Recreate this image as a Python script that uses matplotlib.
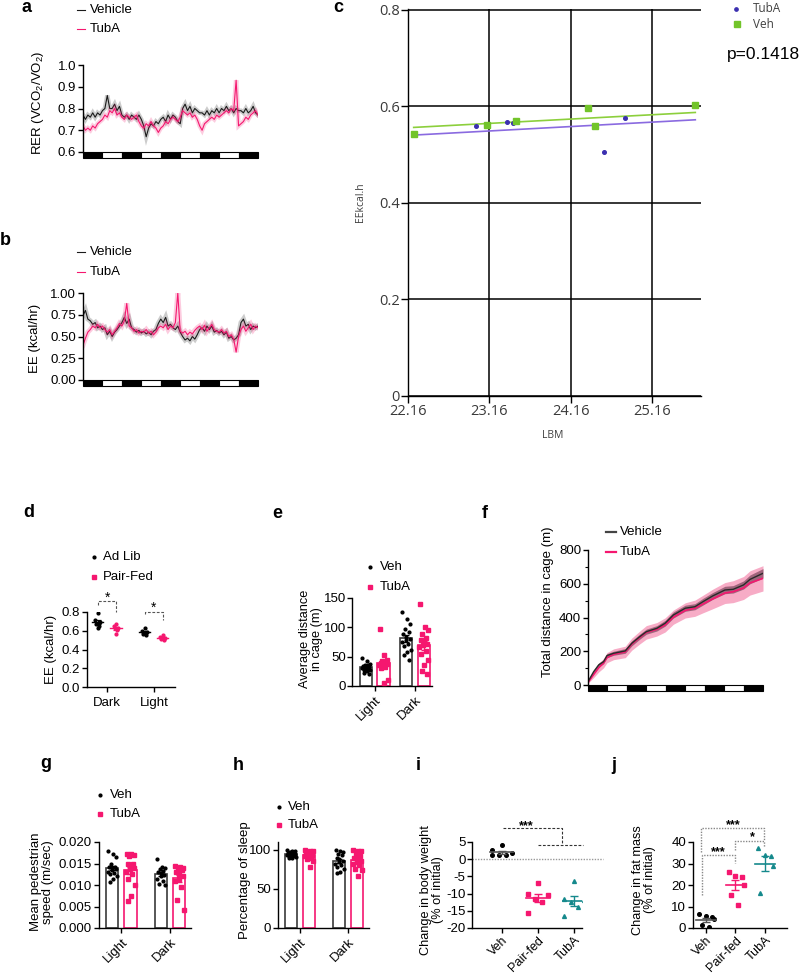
import numpy as np
import matplotlib
matplotlib.use('Agg')
import matplotlib.pyplot as plt
from matplotlib.patches import Rectangle
from matplotlib.lines import Line2D
import matplotlib.transforms as mtransforms

plt.rcParams.update({
    'font.family': ['Liberation Sans', 'DejaVu Sans'],
    'font.size': 9,
    'axes.linewidth': 1.0,
    'xtick.major.width': 1.0, 'ytick.major.width': 1.0,
    'xtick.major.size': 3.5, 'ytick.major.size': 3.5,
    'xtick.major.pad': 2, 'ytick.major.pad': 1.5,
    'mathtext.fontset': 'custom',
    'mathtext.rm': 'Liberation Sans',
})

PINK = '#f5176f'
TEAL = '#15898c'
VEHC = '#1a1a1a'
VEH_EDGE = '#3a3a3a'

# ---------------- data ----------------
ld_phases = ['dark', 'light', 'dark', 'light', 'dark', 'light', 'dark', 'light', 'dark']
seg_hours = 12
t_ab = np.arange(73) * 1.5   # sampling times (h)

rer_veh = [0.77, 0.75, 0.77, 0.76, 0.78, 0.76, 0.78, 0.77, 0.79,
           0.80, 0.86, 0.80, 0.80, 0.82, 0.79, 0.81, 0.77,
           0.76, 0.77, 0.75, 0.77, 0.76, 0.75, 0.77, 0.75,
           0.72, 0.67, 0.71, 0.73, 0.72, 0.74, 0.73, 0.75,
           0.76, 0.74, 0.77, 0.75, 0.77, 0.76, 0.74, 0.73,
           0.80, 0.82, 0.79, 0.81, 0.78, 0.80, 0.79, 0.78,
           0.78, 0.77, 0.79, 0.77, 0.79, 0.78, 0.80, 0.78,
           0.80, 0.79, 0.81, 0.79, 0.80, 0.78, 0.80, 0.79,
           0.79, 0.78, 0.80, 0.78, 0.79, 0.81, 0.78, 0.77]
rer_tuba = [0.72, 0.70, 0.71, 0.70, 0.72, 0.71, 0.73, 0.74, 0.75,
            0.77, 0.76, 0.79, 0.78, 0.80, 0.77, 0.78, 0.76,
            0.75, 0.77, 0.76, 0.75, 0.76, 0.77, 0.74, 0.72,
            0.71, 0.73, 0.72, 0.74, 0.72, 0.71, 0.69, 0.71,
            0.72, 0.74, 0.73, 0.75, 0.76, 0.75, 0.74, 0.76,
            0.79, 0.78, 0.77, 0.78, 0.76, 0.77, 0.75, 0.72,
            0.70, 0.73, 0.74, 0.75, 0.76, 0.75, 0.77, 0.76,
            0.77, 0.78, 0.79, 0.78, 0.80, 0.79, 0.93, 0.72,
            0.73, 0.74, 0.76, 0.75, 0.77, 0.78, 0.79, 0.77]
rer_ticks = [0.6, 0.7, 0.8, 0.9, 1.0]

ee_veh = [0.74, 0.80, 0.70, 0.68, 0.64, 0.66, 0.60, 0.62, 0.58,
          0.60, 0.52, 0.56, 0.50, 0.55, 0.58, 0.62, 0.66,
          0.72, 0.65, 0.70, 0.60, 0.58, 0.55, 0.57, 0.54,
          0.56, 0.53, 0.55, 0.52, 0.56, 0.58, 0.65, 0.70,
          0.66, 0.72, 0.62, 0.64, 0.60, 0.58, 0.62, 0.55,
          0.50, 0.46, 0.48, 0.45, 0.50, 0.47, 0.52, 0.58,
          0.60, 0.56, 0.62, 0.58, 0.62, 0.55, 0.57, 0.54,
          0.56, 0.52, 0.55, 0.48, 0.50, 0.46, 0.48, 0.52,
          0.66, 0.70, 0.62, 0.64, 0.58, 0.62, 0.60, 0.62]
ee_tuba = [0.40, 0.48, 0.55, 0.58, 0.62, 0.60, 0.64, 0.60, 0.62,
           0.58, 0.55, 0.58, 0.52, 0.56, 0.60, 0.65, 0.62,
           0.68, 0.88, 0.62, 0.60, 0.56, 0.58, 0.54, 0.56,
           0.55, 0.58, 0.54, 0.56, 0.52, 0.55, 0.60, 0.62,
           0.60, 0.64, 0.58, 0.62, 0.60, 0.66, 1.00, 0.56,
           0.54, 0.56, 0.52, 0.55, 0.53, 0.57, 0.60, 0.62,
           0.58, 0.63, 0.56, 0.60, 0.64, 0.58, 0.56, 0.55,
           0.58, 0.54, 0.56, 0.50, 0.52, 0.47, 0.32, 0.50,
           0.58, 0.62, 0.56, 0.60, 0.64, 0.58, 0.62, 0.60]
ee_ticks = [0.0, 0.25, 0.5, 0.75, 1.0]

# panel c
lbm_veh = [22.23, 23.13, 23.49, 24.37, 24.46, 25.69]
eec_veh = [0.543, 0.562, 0.569, 0.596, 0.560, 0.603]
lbm_tuba = [22.99, 23.38, 23.45, 24.57, 24.83]
eec_tuba = [0.560, 0.568, 0.566, 0.506, 0.577]
fit_x = [22.23, 25.69]
fit_veh = [0.5566, 0.5876]
fit_tuba = [0.5407, 0.5724]
c_xticks = [22.16, 23.16, 24.16, 25.16]
c_yticks = [0, 0.2, 0.4, 0.6, 0.8]
c_ylabels = ['0', '0.2', '0.4', '0.6', '0.8']

# panel d
d_phases = ['Dark', 'Light']
ee_adlib_dark = [0.79, 0.71, 0.69, 0.67, 0.65, 0.63]
ee_pair_dark = [0.67, 0.65, 0.63, 0.63, 0.61, 0.57]
ee_adlib_light = [0.63, 0.60, 0.59, 0.57, 0.56]
ee_pair_light = [0.55, 0.53, 0.52, 0.51, 0.50, 0.52]

# panel e
e_phases = ['Light', 'Dark']
dist_veh_light = [48, 42, 38, 36, 35, 34, 33, 32, 31, 30, 29, 28, 27, 25, 22, 20]
dist_tuba_light = [97, 53, 45, 42, 40, 39, 38, 37, 36, 35, 33, 30, 10, 5]
dist_veh_dark = [126, 115, 105, 98, 92, 88, 84, 80, 78, 75, 72, 68, 62, 58, 52, 45]
dist_tuba_dark = [140, 100, 95, 88, 82, 78, 75, 72, 70, 66, 60, 55, 45, 35, 25, 20]

# panel f
t_f = [0, 3.5, 6.6, 9.6, 11.7, 15.8, 23, 27, 32, 36, 42.5, 47.6, 52.7, 60, 66, 71, 77, 84.5, 89.6, 96, 100, 108]
cum_veh = [20, 79, 119, 138, 174, 188, 202, 247, 287, 316, 336, 366, 415, 455, 464, 494, 528, 563, 567, 593, 626, 662]
cum_tuba = [15, 62, 102, 130, 162, 182, 196, 242, 282, 312, 330, 356, 402, 442, 455, 480, 510, 545, 553, 575, 605, 632]
sem_veh = [4, 10, 12, 12, 12, 12, 14, 15, 15, 15, 16, 17, 18, 18, 18, 20, 20, 22, 22, 24, 26, 28]
sem_tuba = [5, 18, 25, 28, 30, 32, 34, 36, 38, 40, 40, 42, 42, 45, 48, 52, 58, 62, 65, 68, 72, 75]
f_yticks = [0, 200, 400, 600, 800]

# panel g
spd_veh_light = [0.0180, 0.0172, 0.0165, 0.0150, 0.0142, 0.0143, 0.0140, 0.0137, 0.0134, 0.0131, 0.0128, 0.0125, 0.0120, 0.0115, 0.0108]
spd_tuba_light = [0.0173, 0.0171, 0.0170, 0.0168, 0.0150, 0.0148, 0.0143, 0.0140, 0.0137, 0.0130, 0.0125, 0.0115, 0.0100, 0.0075, 0.0063]
spd_veh_dark = [0.0160, 0.0142, 0.0140, 0.0137, 0.0133, 0.0130, 0.0127, 0.0124, 0.0120, 0.0115, 0.0110, 0.0103, 0.0099]
spd_tuba_dark = [0.0145, 0.0143, 0.0140, 0.0138, 0.0135, 0.0130, 0.0125, 0.0120, 0.0115, 0.0110, 0.0095, 0.0065, 0.0043]
g_yticks = [0.0, 0.005, 0.010, 0.015, 0.020]

# panel h
slp_veh_light = [100, 99, 98, 97, 96, 96, 95, 95, 94, 93, 92, 92, 91, 90, 89]
slp_tuba_light = [100, 99, 98, 97, 96, 95, 95, 94, 93, 92, 90, 88, 86, 78]
slp_veh_dark = [100, 99, 97, 95, 93, 90, 88, 86, 84, 82, 80, 78, 75, 72, 70]
slp_tuba_dark = [100, 99, 98, 95, 92, 90, 88, 86, 84, 82, 80, 75, 74, 66]
h_yticks = [0, 50, 100]

# panels i, j
grp3 = ['Veh', 'Pair-fed', 'TubA']
bw_veh = [4.0, 2.6, 1.9, 1.3, 1.2, 1.2]
bw_pair = [-6.9, -10.1, -10.5, -11.5, -12.5, -15.5]
bw_tuba = [-6.3, -11.5, -12.0, -12.5, -14.0, -16.5]
i_yticks = [5, 0, -5, -10, -15, -20]
fm_veh = [6.5, 5.5, 5.0, 4.0, 1.5, 0.5]
fm_pair = [26.0, 24.0, 23.5, 20.0, 15.5, 10.5]
fm_tuba = [37.0, 34.0, 33.5, 29.0, 16.5]
j_yticks = [0, 10, 20, 30, 40]

# ---------------- figure ----------------
W, H = 800, 974
fig = plt.figure(figsize=(W / 100, H / 100), dpi=100)


def ax_px(l, t, r, b):
    return fig.add_axes([l / W, 1 - b / H, (r - l) / W, (b - t) / H])


def fx(x):
    return x / W


def fy(y):
    return 1 - y / H


def letter(x, y, s):
    fig.text(fx(x), fy(y), s, fontsize=13, fontweight='bold', ha='left', va='baseline')


def ylab(x, y, s, **kw):
    kw.setdefault('fontsize', 9.5)
    fig.text(fx(x), fy(y), s, rotation=90, ha='center', va='center', multialignment='center',
             linespacing=1.05, **kw)


def leg_line(x0, x1, y, tx, label, color, lw=1.0):
    fig.add_artist(Line2D([fx(x0), fx(x1)], [fy(y), fy(y)], color=color, lw=lw,
                          transform=fig.transFigure))
    fig.text(fx(tx), fy(y), label, fontsize=9.5, va='center', ha='left')


def leg_mark(x, y, tx, label, color, marker='o', ms=2.2, fs=9.5, tc='black', family=None):
    fig.add_artist(Line2D([fx(x)], [fy(y)], marker=marker, color=color, ms=ms, ls='none',
                          transform=fig.transFigure))
    kw = {}
    if family:
        kw['family'] = family
    fig.text(fx(tx), fy(y), label, fontsize=fs, va='center', ha='left', color=tc, **kw)


def gp(ax):
    ax.spines['top'].set_visible(False)
    ax.spines['right'].set_visible(False)


def ld_bar(ax, h_frac):
    trans = mtransforms.blended_transform_factory(ax.transData, ax.transAxes)
    for i, ph in enumerate(ld_phases):
        fc = 'black' if ph == 'dark' else 'white'
        ax.add_patch(Rectangle((i * seg_hours, -h_frac), seg_hours, h_frac, transform=trans,
                               facecolor=fc, edgecolor='black', lw=0.8, clip_on=False))


# ---- panel a ----
letter(21, 12, 'a')
axA = ax_px(83, 65, 258, 152)
for y, c in [(rer_veh, VEHC), (rer_tuba, PINK)]:
    axA.plot(t_ab, y, color=c, lw=3.2, alpha=0.22, solid_joinstyle='miter')
    axA.plot(t_ab, y, color=c, lw=0.8)
axA.set_xlim(0, 108)
axA.set_ylim(0.6, 1.0)
axA.set_yticks(rer_ticks)
axA.set_yticklabels(['%.1f' % v for v in rer_ticks], fontsize=9.5)
for s in ['top', 'right', 'bottom']:
    axA.spines[s].set_visible(False)
axA.set_xticks([])
ld_bar(axA, 6 / 87)
ylab(38, 103, 'RER (VCO$_2$/VO$_2$)')
leg_line(77, 85, 10, 90, 'Vehicle', VEHC, lw=0.8)
leg_line(77, 85, 29, 90, 'TubA', PINK, lw=0.8)

# ---- panel b ----
letter(0, 245, 'b')
axB = ax_px(83, 293, 258, 380)
for y, c in [(ee_veh, VEHC), (ee_tuba, PINK)]:
    axB.plot(t_ab, y, color=c, lw=3.6, alpha=0.22, solid_joinstyle='miter')
    axB.plot(t_ab, y, color=c, lw=0.8)
axB.set_xlim(0, 108)
axB.set_ylim(0, 1.0)
axB.set_yticks(ee_ticks)
axB.set_yticklabels(['%.2f' % v for v in ee_ticks], fontsize=9.5)
for s in ['top', 'right', 'bottom']:
    axB.spines[s].set_visible(False)
axB.set_xticks([])
ld_bar(axB, 6 / 87)
ylab(35, 338, 'EE (kcal/hr)')
leg_line(77, 85, 252, 90, 'Vehicle', VEHC, lw=0.8)
leg_line(77, 85, 272, 90, 'TubA', PINK, lw=0.8)

# ---- panel c ----
letter(333, 12, 'c')
axC = ax_px(408, 9, 701, 396)
axC.set_xlim(22.16, 25.76)
axC.set_ylim(0, 0.802)
axC.set_xticks(c_xticks)
axC.set_xticklabels(['%.2f' % v for v in c_xticks], fontsize=10.5, color='#3a3a3a', family='Open Sans')
axC.set_yticks(c_yticks)
axC.set_yticklabels(c_ylabels, fontsize=10.5, color='#3a3a3a', family='Open Sans')
axC.tick_params(length=5, width=1, pad=1)
axC.grid(True, color='black', lw=1.1)
axC.set_axisbelow(True)
axC.spines['top'].set_visible(False)
axC.spines['right'].set_visible(False)
axC.plot(fit_x, fit_veh, color='#8ccf3c', lw=1.2, zorder=3)
axC.plot(fit_x, fit_tuba, color='#8a6ae0', lw=1.2, zorder=3)
axC.plot(lbm_tuba, eec_tuba, 'o', color='#3b2fb0', ms=2.6, zorder=4)
axC.plot(lbm_veh, eec_veh, 's', color='#72c42a', ms=4.2, zorder=4)
fig.text(fx(553), fy(436), 'LBM', fontsize=7.5, color='#404040', ha='center', va='center', family='Open Sans')
ylab(361, 202, 'EEkcal.h', fontsize=7.5, color='#404040', family='Open Sans')
leg_mark(736, 9, 753, 'TubA', '#3b2fb0', 'o', 2.4, fs=8.5, tc='#404040', family='Open Sans')
leg_mark(737, 24, 753, 'Veh', '#72c42a', 's', 4.0, fs=8.5, tc='#404040', family='Open Sans')
fig.text(fx(727), fy(55), 'p=0.1418', fontsize=12.5, ha='left', va='center')

# ---- panel d ----
letter(23, 517, 'd')
axD = ax_px(87, 612, 175, 687)
gp(axD)
jit_d = [0.0, -0.05, 0.05, -0.03, 0.03, 0.0]
for gi, (a_, p_) in enumerate([(ee_adlib_dark, ee_pair_dark), (ee_adlib_light, ee_pair_light)]):
    for vals, col, dx in [(a_, 'black', -0.2), (p_, PINK, 0.19)]:
        v = np.asarray(vals)
        m = v.mean()
        se = v.std(ddof=1) / np.sqrt(len(v))
        x = gi + dx
        axD.plot(x + np.resize(jit_d, len(v)), v, 'o', color=col, ms=2.0, zorder=3)
        axD.plot([x - 0.12, x + 0.12], [m, m], color=col, lw=1.0, zorder=4)
        axD.errorbar(x, m, yerr=se, color=col, lw=0.9, capsize=2, capthick=0.9, zorder=4)
axD.set_xlim(-0.43, 1.45)
axD.set_ylim(0, 0.8)
axD.set_yticks([0, 0.2, 0.4, 0.6, 0.8])
axD.set_yticklabels(['0.0', '0.2', '0.4', '0.6', '0.8'], fontsize=9.5)
axD.set_xticks([0, 1])
axD.set_xticklabels(d_phases, fontsize=9.5)
axD.tick_params(axis='x', pad=4)
bk = dict(color='#555555', lw=0.8, ls=(0, (2.5, 1.5)), clip_on=False)
axD.plot([-0.2, -0.2, 0.19, 0.19], [0.871, 0.914, 0.914, 0.80], **bk)
axD.plot([0.81, 0.81, 1.19, 1.19], [0.775, 0.80, 0.80, 0.711], **bk)
axD.text(0.0, 0.955, '*', ha='center', va='center', fontsize=10)
axD.text(1.0, 0.84, '*', ha='center', va='center', fontsize=10)
ylab(51, 649, 'EE (kcal/hr)')
leg_mark(94, 557, 103, 'Ad Lib', 'black', 'o', 2.0)
leg_mark(94, 577, 103, 'Pair-Fed', PINK, 's', 2.2)


# ---- bar panels helper ----
def bar_panel(ax, veh_groups, tuba_groups, width, off, jit):
    for gi in range(2):
        for vals, ec, pc, dx, mk, ms in [(veh_groups[gi], VEH_EDGE, 'black', -off, 'o', 2.0),
                                         (tuba_groups[gi], PINK, PINK, off, 's', 2.2)]:
            v = np.asarray(vals, dtype=float)
            m = v.mean()
            se = v.std(ddof=1) / np.sqrt(len(v))
            x = gi + dx
            ax.bar(x, m, width=width, facecolor='white', edgecolor=ec, lw=1.2, zorder=1)
            ax.plot(x + np.resize(jit, len(v)), v, ls='none', marker=mk, ms=ms, color=pc, zorder=3)
            ax.errorbar(x, m, yerr=se, color=pc, lw=1.0, capsize=2.5, capthick=1.0, zorder=4)
    ax.set_xticks([0, 1])
    ax.set_xticklabels(e_phases, rotation=45, ha='right', rotation_mode='anchor', fontsize=9.5)
    gp(ax)


jit_bar = [-0.08, 0.02, 0.08, -0.03, 0.05, -0.06, 0.0, 0.07, -0.01, -0.09, 0.04, -0.05, 0.09, 0.01, -0.04, 0.06]

# ---- panel e ----
letter(272, 518, 'e')
axE = ax_px(352, 598, 432, 686)
bar_panel(axE, [dist_veh_light, dist_veh_dark], [dist_tuba_light, dist_tuba_dark], 0.3, 0.217,
          [j * 1.2 for j in jit_bar])
axE.set_xlim(-0.565, 1.42)
axE.set_ylim(0, 150)
axE.set_yticks([0, 50, 100, 150])
axE.tick_params(axis='y', labelsize=9.5, pad=1)
ylab(311, 639, 'Average distance\nin cage (m)', fontsize=9.2)
leg_mark(370, 567, 380, 'Veh', 'black', 'o', 2.0)
leg_mark(370, 587, 380, 'TubA', PINK, 's', 2.2)

# ---- panel f ----
letter(482, 518, 'f')
axF = ax_px(588, 550, 763, 685)
cv, ct = np.asarray(cum_veh), np.asarray(cum_tuba)
sv, st = np.asarray(sem_veh), np.asarray(sem_tuba)
axF.fill_between(t_f, ct - st, ct + st, color='#f590b4', alpha=0.75, lw=0)
axF.fill_between(t_f, cv - sv, cv + sv, color='#5a2a40', alpha=0.55, lw=0)
axF.plot(t_f, ct, color=PINK, lw=1.2)
axF.plot(t_f, cv, color='#2a2a2a', lw=1.0)
axF.set_xlim(0, 108)
axF.set_ylim(0, 800)
axF.set_yticks(f_yticks)
axF.set_yticks([100, 300, 500, 700], minor=True)
axF.tick_params(axis='y', which='minor', length=2, width=0.8)
axF.tick_params(axis='y', labelsize=9.5)
for s in ['top', 'right', 'bottom']:
    axF.spines[s].set_visible(False)
axF.set_xticks([])
ld_bar(axF, 6 / 135)
ylab(548, 602, 'Total distance in cage (m)')
leg_line(606, 616, 532, 620, 'Vehicle', '#444444', lw=1.6)
leg_line(606, 616, 552, 620, 'TubA', PINK, lw=1.6)

# ---- panel g ----
letter(40, 768, 'g')
axG = ax_px(99, 842, 191, 928)
bar_panel(axG, [spd_veh_light, spd_veh_dark], [spd_tuba_light, spd_tuba_dark], 0.25, 0.186, jit_bar)
axG.set_xlim(-0.46, 1.43)
axG.set_ylim(0, 0.020)
axG.set_yticks(g_yticks)
axG.set_yticklabels(['%.3f' % v for v in g_yticks], fontsize=9.5)
ylab(42, 882, 'Mean pedestrian\nspeed (m/sec)')
leg_mark(100, 795, 110, 'Veh', 'black', 'o', 2.0)
leg_mark(100, 814, 110, 'TubA', PINK, 's', 2.2)

# ---- panel h ----
letter(233, 770, 'h')
axHh = ax_px(278, 842, 369, 928)
bar_panel(axHh, [slp_veh_light, slp_veh_dark], [slp_tuba_light, slp_tuba_dark], 0.25, 0.185, jit_bar)
axHh.set_xlim(-0.46, 1.43)
axHh.set_ylim(0, 110)
axHh.set_yticks(h_yticks)
axHh.tick_params(axis='y', labelsize=9.5)
ylab(245, 880, 'Percentage of sleep')
leg_mark(279, 807, 288, 'Veh', 'black', 'o', 2.0)
leg_mark(279, 825, 288, 'TubA', PINK, 's', 2.2)


# ---- dot plots i, j ----
def dot_panel(ax, groups, jits, half):
    styles = [('black', 'o', 2.6), (PINK, 's', 2.8), (TEAL, '^', 2.8)]
    for gi, vals in enumerate(groups):
        col, mk, ms = styles[gi]
        v = np.asarray(vals, dtype=float)
        m = v.mean()
        se = v.std(ddof=1) / np.sqrt(len(v))
        ax.plot(gi + np.resize(jits, len(v)), v, ls='none', marker=mk, ms=ms, color=col, zorder=3)
        lc = '#555555' if gi == 0 else col
        ax.plot([gi - half, gi + half], [m, m], color=lc, lw=1.2, zorder=4)
        ax.errorbar(gi, m, yerr=se, color=lc, lw=1.0, capsize=3, capthick=1.0, zorder=4)
    ax.set_xticks([0, 1, 2])
    ax.set_xticklabels(grp3, rotation=45, ha='right', rotation_mode='anchor', fontsize=9)
    ax.tick_params(axis='x', pad=1)
    gp(ax)


letter(416, 770, 'i')
axI = ax_px(472, 842, 582, 928)
axI.plot([-0.83, 2.8], [0, 0], color='#999999', lw=1.0, ls=(0, (1, 1)), clip_on=False, zorder=0)
dot_panel(axI, [bw_veh, bw_pair, bw_tuba], [0.0, -0.28, 0.28, -0.08, 0.12, -0.28], 0.32)
axI.set_xlim(-0.83, 2.22)
axI.set_ylim(-20, 5)
axI.set_yticks(i_yticks)
axI.set_yticklabels([str(v) for v in i_yticks], fontsize=9.5)
axI.tick_params(axis='y', pad=1)
bki = dict(color='#333333', lw=0.8, ls=(0, (2.5, 1.5)), clip_on=False)
axI.plot([0.03, 1.67, 1.67], [9.0, 9.0, 4.1], **bki)
axI.plot([1.0, 2.25], [4.1, 4.1], **bki)
axI.text(0.67, 9.6, '***', ha='center', va='center', fontsize=9, fontweight='bold')
ylab(432, 890, 'Change in body weight\n(% of initial)', fontsize=9.2)

letter(611, 770, 'j')
axJ = ax_px(693, 842, 787, 928)
dot_panel(axJ, [fm_veh, fm_pair, fm_tuba], [-0.22, 0.0, 0.22, 0.28, -0.15, 0.1], 0.33)
axJ.set_xlim(-0.44, 2.75)
axJ.set_ylim(0, 40)
axJ.set_yticks(j_yticks)
axJ.tick_params(axis='y', labelsize=9.5)
bkj = dict(color='#888888', lw=1.0, ls=(0, (1, 1)), clip_on=False)
axJ.plot([-0.17, -0.17, 1.97, 1.97], [35.3, 46.5, 46.5, 40.9], **bkj)
axJ.plot([0.98, 0.98, 1.97, 1.97], [36.3, 40.5, 40.5, 37.7], **bkj)
axJ.plot([-0.14, -0.14, 0.98, 0.98], [15.3, 34.0, 34.0, 30.2], **bkj)
axJ.text(0.92, 47.8, '***', ha='center', va='center', fontsize=9, fontweight='bold')
axJ.text(1.59, 42.3, '*', ha='center', va='center', fontsize=9, fontweight='bold')
axJ.text(0.41, 35.4, '***', ha='center', va='center', fontsize=9, fontweight='bold')
ylab(644, 880, 'Change in fat mass\n(% of initial)', fontsize=9.2)

fig.savefig('out.png', dpi=100)
